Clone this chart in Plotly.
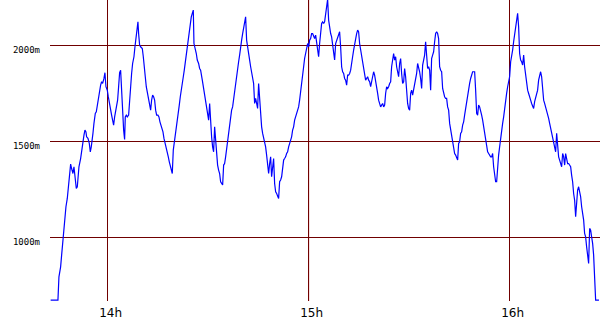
import plotly.graph_objects as go

# time in minutes after 13:00, altitude in metres
t_part1 = [42.99,45.17,45.47,45.97,46.27,46.57,46.97,47.26,47.56,47.96,
48.26,48.66,48.96,49.25,49.65,49.95,50.35,50.65,50.95,51.14,
51.44,51.94,52.24,52.64,52.94,53.23,53.53,53.73,54.13,54.53,
54.83,55.12,55.42,55.62,55.92,56.32,56.62,56.92,57.31,57.61,
57.91,58.21,58.51,58.91,59.20,59.50,59.90,60.20,60.50,60.90,
61.19,61.49,61.79,62.09,62.39,62.69,62.98,63.28,63.58,63.88,
64.18,64.48,64.78,65.07,65.27,65.57,65.87,66.27,66.57,66.87,
67.16,67.46,67.86,68.16,68.46,68.76,69.05,69.25,69.55,69.85,
70.35,70.65,70.94,71.24,71.54,71.84,72.14,72.54,72.84,73.13,
73.43,73.73,74.03,74.33,74.63,75.02,75.32,75.62,75.92,76.22,
76.52,76.82,77.21,77.51,77.81,78.11,78.41,78.71,79.00,79.30,
79.60,79.90,80.20,80.50,80.80,81.09,81.39,81.69,81.99,82.29,
82.59,82.88,83.18,83.48,83.78,84.08,84.38,84.68,84.97,85.27,
85.57,85.77,86.17,86.47,86.76,87.16,87.46,87.76]
alt_part1 = [672,672,793,845,906,967,1036,1088,1158,1201,
1253,1297,1380,1357,1331,1366,1314,1253,1262,1314,
1366,1409,1453,1488,1531,1557,1548,1522,1514,1488,
1444,1470,1505,1540,1592,1644,1652,1687,1731,1765,
1791,1809,1800,1826,1856,1783,1765,1731,1696,1670,
1635,1609,1583,1626,1661,1687,1713,1783,1856,1869,
1731,1626,1557,1508,1626,1635,1626,1635,1731,1800,
1852,1904,1939,1991,2043,2078,2121,2060,2000,1991,
1982,1939,1861,1835,1783,1757,1722,1705,1661,1713,
1739,1731,1713,1661,1635,1635,1626,1600,1583,1566,
1548,1514,1479,1461,1444,1418,1392,1366,1349,1331,
1453,1488,1522,1566,1609,1652,1687,1731,1774,1809,
1835,1869,1913,1956,1991,2026,2060,2104,2147,2165,
2182,2008,1982,1956,1922,1904,1878,1869]

t_part2 = [88.26,88.56,
88.95,89.25,89.55,89.85,90.15,90.45,90.75,91.04,91.34,91.64,
91.94,92.24,92.54,92.83,93.13,93.43,93.73,94.03,94.33,94.63,
94.92,95.22,95.52,95.82,96.12,96.42,96.72,97.01,97.31,97.61,
97.91,98.21,98.51,98.80,99.10,99.40,99.70,100.00,100.30,100.60,
100.89,101.19,101.49,101.79,102.09,102.39,102.69,102.98,103.28,103.58,
103.88,104.18,104.48,104.77,105.07,105.37,105.67,105.97,106.27,106.57,
106.86,107.16,107.46,107.76,108.06,108.36,108.66,108.95,109.25,109.55,
109.85,110.15,110.45,110.74,111.04,111.34,111.64,111.94,112.24,112.54,
112.83,113.13,113.43,113.73,114.03,114.33,114.63,114.92,115.22,115.52,
115.82,116.12,116.42,116.71,117.01,117.31,117.61,117.91,118.21,118.51,
118.80,119.10,119.40,119.70,120.00,120.30,120.60,120.89,121.19,121.49,
121.79,122.09,122.39,122.68,122.98,123.28,123.58,123.88,124.18,124.48,
124.77,125.07,125.37,125.67,125.97,126.27,126.57,126.86,127.16,127.46,
127.76,128.06,128.36,128.66,128.95,129.25,129.55,129.85,130.15,130.45,
130.74,131.04,131.34,131.64,131.94,132.24,132.54,132.83,133.13,133.43,
133.73,134.03,134.33,134.63,134.92,135.22,135.52,135.82,136.12,136.42,
136.72,137.01,137.31,137.61,137.91,138.21,138.51,138.80,139.10,139.40,
139.70,140.00,140.30,140.60,140.89,141.19,141.49,141.79,142.09,142.39,
142.69,142.98,143.28,143.58,143.88,144.18,144.48,144.77,145.07,145.37,
145.67,145.97,146.27,146.57,146.86,147.16,147.46]
alt_part2 = [1817,1783,
1748,1713,1678,1635,1609,1696,1592,1522,1470,1444,
1574,1488,1401,1375,1349,1331,1288,1279,1271,1375,
1383,1418,1461,1496,1531,1574,1609,1661,1678,1722,
1757,1800,1835,1878,1913,1948,2000,2026,2060,2095,
2130,2147,2026,1982,1956,1922,1887,1861,1817,1800,
1696,1722,1696,1670,1800,1731,1626,1574,1540,1514,
1505,1470,1427,1366,1331,1383,1418,1314,1383,1409,
1279,1236,1227,1210,1201,1288,1297,1314,1366,1401,
1409,1418,1435,1444,1470,1488,1505,1522,1557,1574,
1609,1626,1644,1661,1678,1713,1765,1817,1852,1887,
1930,1956,2000,2008,1991,2026,2034,2060,2060,2043,
2034,2052,2017,1974,1939,2008,2078,2112,2121,2112,
2121,2165,2208,2238,2130,2086,2060,2043,2008,1974,
1922,2008,2026,2043,2060,2069,1991,1887,1861,1852,
1826,1817,1791,1843,1843,1852,1869,1922,1939,1974,
2008,2026,2060,2078,2069,2008,1974,1939,1922,1887,
1843,1817,1826,1835,1817,1809,1783,1817,1852,1861,
1843,1817,1774,1748,1713,1696,1678,1687,1696,1678,
1687,1748,1783,1774,1783,1800,1809,1887,1930,1956,
1922,1939,1887,1852,1835,1904,1930]

t_part3 = [147.76,148.06,148.36,148.65,148.95,149.25,149.55,149.85,150.15,150.45,
150.74,151.04,151.34,151.64,151.94,152.24,152.53,152.83,153.13,153.43,
153.73,154.03,154.33,154.62,154.92,155.22,155.52,155.82,156.12,156.42,
156.71,157.01,157.31,157.61,157.91,158.21,158.50,158.80,159.10,159.40,
159.70,160.00,160.30,160.59,160.89,161.19,161.49,161.79,162.09,162.39,
162.68,162.98,163.28,163.58,163.88,164.18,164.48,164.77,165.07,165.37,
165.67,165.97,166.27,166.56,166.86,167.16,167.46,167.76,168.06,168.36,
168.65,168.95,169.25,169.55,169.85,170.15,170.44,170.74,171.04,171.34,
171.64,171.94,172.24,172.53,172.83,173.13,173.43,173.73,174.03,174.33,
174.62,174.92,175.22,175.52,175.82,176.12,176.41,176.71,177.01,177.31,
177.61,177.91,178.21,178.50,178.80,179.10,179.40,179.70,180.00,180.30,
180.59,180.89,181.19,181.49,181.79,182.09,182.38,182.68,182.98,183.28,
183.58,183.88,184.18,184.47,184.77,185.07,185.37,185.67,185.97,186.27,
186.56,186.86,187.16,187.46,187.76,188.06,188.35,188.65,188.95,189.25,
189.55,189.85,190.15,190.44,190.74,191.04,191.34,191.64,191.94,192.24,
192.53,192.83,193.13,193.43,193.73,194.03,194.33,194.62,194.92,195.22,
195.52,195.82,196.12,196.42,196.71,197.01,197.31,197.61,197.91,198.21,
198.50,198.80,199.10,199.40,199.70,200.00,200.29,200.59,200.89,201.19,
201.49,201.79,202.09,202.38,202.68,202.98,203.28,203.58,203.88,204.18,
204.47,204.77,205.07,205.37,205.67,206.66]
alt_part3 = [1852,1800,1809,1878,1835,1739,1696,1670,1661,1748,
1765,1739,1765,1800,1826,1852,1904,1887,1861,1826,
1774,1896,1922,1948,2017,1922,1878,1887,1869,1765,
1930,1948,1965,2017,2060,2069,2060,2034,1887,1869,
1861,1774,1739,1731,1722,1722,1678,1661,1592,1557,
1522,1496,1453,1435,1427,1409,1401,1488,1496,1540,
1548,1583,1600,1635,1670,1713,1739,1765,1800,1826,
1843,1861,1861,1861,1765,1644,1635,1687,1678,1661,
1635,1609,1574,1540,1505,1470,1444,1435,1427,1418,
1418,1435,1366,1331,1288,1288,1392,1427,1470,1522,
1566,1592,1626,1678,1713,1748,1783,1809,1835,1913,
1939,1974,2017,2060,2095,2130,2165,2095,1956,1922,
1913,1896,1948,1887,1835,1817,1765,1748,1722,1713,
1696,1678,1670,1705,1731,1748,1765,1817,1843,1861,
1835,1765,1713,1696,1678,1661,1635,1618,1592,1566,
1540,1531,1505,1470,1444,1540,1470,1418,1401,1375,
1366,1435,1418,1375,1435,1409,1383,1383,1375,1366,
1323,1288,1227,1192,1106,1210,1245,1262,1236,1210,
1158,1123,1088,1019,1001,949,897,863,1045,1036,
1001,967,906,741,672,672]

hour_ticks = [60, 120, 180]
hour_labels = ["14h", "15h", "16h"]
alt_ticks = [1000, 1500, 2000]
alt_labels = ["1000m", "1500m", "2000m"]

t_all = t_part1 + t_part2 + t_part3
alt_all = alt_part1 + alt_part2 + alt_part3

GRID = "#700000"

fig = go.Figure()
fig.add_trace(go.Scatter(x=t_all, y=alt_all, mode="lines",
                         line=dict(color="#0000ff", width=1.2),
                         hoverinfo="skip", showlegend=False))

fig.add_shape(type="line", xref="x", yref="paper", x0=hour_ticks[1], x1=hour_ticks[1],
              y0=0, y1=1, line=dict(color="#b00000", width=1), layer="below")

fig.update_layout(
    width=600, height=330,
    margin=dict(l=50, r=0, t=0, b=29),
    paper_bgcolor="white", plot_bgcolor="white",
    showlegend=False,
    xaxis=dict(range=[42.8, 206.97], tickvals=hour_ticks, ticktext=hour_labels,
               showgrid=True, gridcolor=GRID, gridwidth=1, zeroline=False,
               showline=False, ticks="", ticklabelstandoff=3, ticklabelshift=3,
               tickfont=dict(family="DejaVu Sans", size=12, color="black")),
    yaxis=dict(range=[667, 2234.7], tickvals=alt_ticks, ticktext=alt_labels,
               showgrid=True, gridcolor=GRID, gridwidth=1, zeroline=False,
               showline=False, ticks="", ticklabelstandoff=9, ticklabelshift=5,
               tickfont=dict(family="DejaVu Sans Mono", size=9, color="black")),
)

fig.write_html("out.html")
